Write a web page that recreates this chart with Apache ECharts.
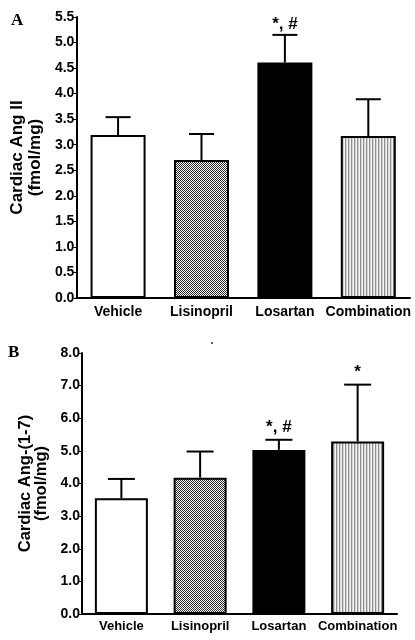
<!DOCTYPE html>
<html>
<head>
<meta charset="utf-8">
<script src="https://cdn.jsdelivr.net/npm/echarts@6/dist/echarts.min.js"></script>
<style>
html,body{margin:0;padding:0;background:#fff;}
#main{width:415px;height:640px;}
</style>
</head>
<body>
<div id="main"></div>
<script>
// ---- data ----
const categories = ['Vehicle', 'Lisinopril', 'Losartan', 'Combination'];
const angIIMean = [3.19, 2.70, 4.61, 3.17];
const angIISem  = [0.35, 0.51, 0.54, 0.72];
const angIINotes = ['', '', '*, #', ''];
const ang17Mean = [3.55, 4.18, 5.03, 5.29];
const ang17Sem  = [0.59, 0.80, 0.31, 1.74];
const ang17Notes = ['', '', '*, #', '*'];
const yAxisA = { min: 0, max: 5.5, interval: 0.5 };
const yAxisB = { min: 0, max: 8, interval: 1 };

// ---- patterns ----
function makeChecker() {
  const c = document.createElement('canvas');
  c.width = 2; c.height = 2;
  const g = c.getContext('2d');
  g.fillStyle = '#ffffff'; g.fillRect(0, 0, 2, 2);
  g.fillStyle = '#2a2a2a'; g.fillRect(0, 0, 1, 1); g.fillRect(1, 1, 1, 1);
  return c;
}
function makeStripes() {
  const c = document.createElement('canvas');
  c.width = 3; c.height = 1;
  const g = c.getContext('2d');
  g.fillStyle = '#8e8e8e'; g.fillRect(0, 0, 1, 1);
  g.fillStyle = '#d4d4d4'; g.fillRect(1, 0, 1, 1);
  g.fillStyle = '#f4f4f4'; g.fillRect(2, 0, 1, 1);
  return c;
}
const fills = [
  '#ffffff',
  { image: makeChecker(), repeat: 'repeat' },
  '#000000',
  { image: makeStripes(), repeat: 'repeat' }
];

const FONT = 'Liberation Sans, Arial, sans-serif';

function barData(vals) {
  return vals.map((v, i) => ({ value: v, itemStyle: { color: fills[i] } }));
}
function errData(means, sems) {
  return means.map((m, i) => [i, m, sems[i]]);
}
function errRender(notes, cap, noteGap) {
  return function (params, api) {
    const i = api.value(0), m = api.value(1), e = api.value(2);
    const base = api.coord([i, m]);
    const top = api.coord([i, m + e]);
    const st = { stroke: '#000', lineWidth: 2 };
    const children = [
      { type: 'line', shape: { x1: base[0], y1: base[1], x2: top[0], y2: top[1] }, style: st },
      { type: 'line', shape: { x1: top[0] - cap / 2, y1: top[1], x2: top[0] + cap / 2, y2: top[1] }, style: st }
    ];
    if (notes[i]) {
      children.push({
        type: 'text',
        style: {
          text: notes[i], x: top[0], y: top[1] - noteGap,
          align: 'center', verticalAlign: 'bottom',
          fontFamily: FONT, fontWeight: 'bold', fontSize: 17, fill: '#000'
        }
      });
    }
    return { type: 'group', children: children };
  };
}

const axisLineStyle = { color: '#000', width: 2 };

const chart = echarts.init(document.getElementById('main'), null, { renderer: 'canvas' });
chart.setOption({
  animation: false,
  backgroundColor: '#fff',
  grid: [
    { left: 74, top: 17, width: 336, height: 281 },
    { left: 82, top: 353, width: 315, height: 261 }
  ],
  xAxis: [
    {
      type: 'category', gridIndex: 0, data: categories,
      axisLine: { lineStyle: axisLineStyle },
      axisTick: { alignWithLabel: true, length: 4, lineStyle: { color: '#000', width: 1 } },
      axisLabel: { color: '#000', fontFamily: FONT, fontWeight: 'bold', fontSize: 14, margin: 7, interval: 0 }
    },
    {
      type: 'category', gridIndex: 1, data: categories,
      axisLine: { lineStyle: axisLineStyle },
      axisTick: { alignWithLabel: true, length: 4, lineStyle: { color: '#000', width: 1 } },
      axisLabel: { color: '#000', fontFamily: FONT, fontWeight: 'bold', fontSize: 13, margin: 6, interval: 0 }
    }
  ],
  yAxis: [
    {
      type: 'value', gridIndex: 0, min: yAxisA.min, max: yAxisA.max, interval: yAxisA.interval,
      splitLine: { show: false },
      axisLine: { show: true, lineStyle: axisLineStyle },
      axisTick: { show: true, length: 3, lineStyle: { color: '#000', width: 1 } },
      axisLabel: { color: '#000', fontFamily: FONT, fontWeight: 'bold', fontSize: 14, margin: 2,
        formatter: v => v.toFixed(1) },
      name: 'Cardiac Ang II\n(fmol/mg)', nameLocation: 'middle', nameRotate: 90, nameGap: 29,
      nameTextStyle: { color: '#000', fontFamily: FONT, fontWeight: 'bold', fontSize: 17, lineHeight: 18 }
    },
    {
      type: 'value', gridIndex: 1, min: yAxisB.min, max: yAxisB.max, interval: yAxisB.interval,
      splitLine: { show: false },
      axisLine: { show: true, lineStyle: axisLineStyle },
      axisTick: { show: true, length: 3, lineStyle: { color: '#000', width: 1 } },
      axisLabel: { color: '#000', fontFamily: FONT, fontWeight: 'bold', fontSize: 14, margin: 2,
        formatter: v => v.toFixed(1) },
      name: 'Cardiac Ang-(1-7)\n(fmol/mg)', nameLocation: 'middle', nameRotate: 90, nameGap: 30,
      nameTextStyle: { color: '#000', fontFamily: FONT, fontWeight: 'bold', fontSize: 16.5, lineHeight: 16 }
    }
  ],
  series: [
    {
      type: 'bar', xAxisIndex: 0, yAxisIndex: 0, barWidth: 55,
      data: barData(angIIMean),
      itemStyle: { borderColor: '#000', borderWidth: 2 }
    },
    {
      type: 'custom', xAxisIndex: 0, yAxisIndex: 0, clip: false, z: 3,
      renderItem: errRender(angIINotes, 25, 2),
      encode: { x: 0, y: 1 },
      data: errData(angIIMean, angIISem)
    },
    {
      type: 'bar', xAxisIndex: 1, yAxisIndex: 1, barWidth: 53,
      data: barData(ang17Mean),
      itemStyle: { borderColor: '#000', borderWidth: 2 }
    },
    {
      type: 'custom', xAxisIndex: 1, yAxisIndex: 1, clip: false, z: 3,
      renderItem: errRender(ang17Notes, 27, 4),
      encode: { x: 0, y: 1 },
      data: errData(ang17Mean, ang17Sem)
    }
  ],
  graphic: [
    { type: 'text', left: 11, top: 12, style: { text: 'A', fontFamily: 'Liberation Serif, Times New Roman, serif', fontWeight: 'bold', fontSize: 17, fill: '#000' } },
    { type: 'text', left: 8, top: 344, style: { text: 'B', fontFamily: 'Liberation Serif, Times New Roman, serif', fontWeight: 'bold', fontSize: 17, fill: '#000' } },
    { type: 'circle', shape: { cx: 212, cy: 343, r: 1 }, style: { fill: '#333' } }
  ]
});
</script>
</body>
</html>
